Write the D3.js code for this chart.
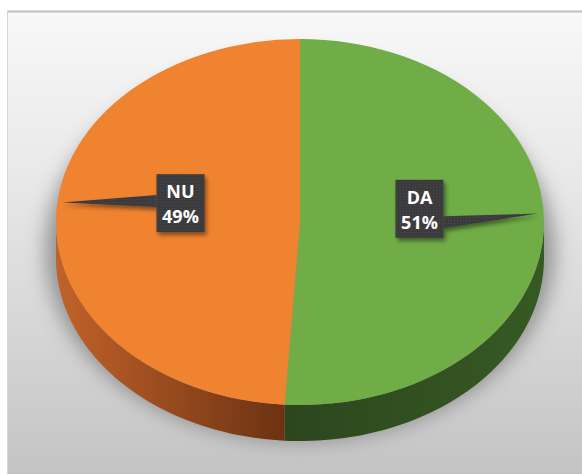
<!DOCTYPE html>
<html>
<head>
<meta charset="utf-8">
<script src="https://cdn.jsdelivr.net/npm/d3@7"></script>
<style>
  html, body { margin: 0; padding: 0; background: #ffffff; }
  svg { display: block; }
</style>
</head>
<body>
<div id="chart"></div>
<script>
// ---- data ----
const categories = ["DA", "NU"];
const values = [51, 49];
const percentLabels = ["51%", "49%"];
const topColors = ["#70AD47", "#F0832F"];
const sideColorsLight = ["#365A24", "#C2622A"];
const sideColorsDark = ["#2C461D", "#6C3212"];

// ---- layout ----
const W = 582, H = 475;
const cx = 300, cy = 222, rx = 244, ry = 183, depth = 36;

const svg = d3.select("#chart").append("svg").attr("width", W).attr("height", H);
const defs = svg.append("defs");

// background gradient
const bg = defs.append("linearGradient").attr("id", "bg").attr("x1", 0).attr("y1", 0).attr("x2", 0).attr("y2", 1);
bg.append("stop").attr("offset", "0%").attr("stop-color", "#f8f8f8");
bg.append("stop").attr("offset", "35%").attr("stop-color", "#e9e9e9");
bg.append("stop").attr("offset", "100%").attr("stop-color", "#c4c4c4");

const blur = defs.append("filter").attr("id", "blur").attr("x", "-20%").attr("y", "-20%").attr("width", "140%").attr("height", "140%");
blur.append("feGaussianBlur").attr("stdDeviation", 10);

const ds = defs.append("filter").attr("id", "ds").attr("x", "-20%").attr("y", "-20%").attr("width", "150%").attr("height", "150%");
ds.append("feDropShadow").attr("dx", 2).attr("dy", 3).attr("stdDeviation", 2).attr("flood-color", "#000").attr("flood-opacity", 0.45);

// texture for labels
const pat = defs.append("pattern").attr("id", "tex").attr("width", 3).attr("height", 3).attr("patternUnits", "userSpaceOnUse");
pat.append("rect").attr("width", 3).attr("height", 3).attr("fill", "#3a3a3d");
pat.append("rect").attr("x", 1).attr("y", 1).attr("width", 1).attr("height", 1).attr("fill", "#4a4a4e");

// chart area
svg.append("rect").attr("x", 7).attr("y", 11).attr("width", W - 7).attr("height", H - 11 - 1).attr("fill", "url(#bg)");
svg.append("line").attr("x1", 7).attr("x2", W).attr("y1", 11.5).attr("y2", 11.5).attr("stroke", "#bdbdbd").attr("stroke-width", 2);
svg.append("line").attr("x1", 7.5).attr("x2", 7.5).attr("y1", 11).attr("y2", H - 1).attr("stroke", "#d6d6d6").attr("stroke-width", 1);

// pie
const pie = d3.pie().sort(null).value(d => d.value);
const data = categories.map((c, i) => ({ name: c, value: values[i], pct: percentLabels[i], i }));
const arcsData = pie(data);

const ex = a => cx + rx * Math.sin(a);
const ey = a => cy - ry * Math.cos(a);

// shadow under pie
svg.append("ellipse").attr("cx", cx).attr("cy", cy + depth * 0.6 + 6).attr("rx", rx + 10).attr("ry", ry + 8)
  .attr("fill", "#707070").attr("opacity", 0.7).attr("filter", "url(#blur)");

// side walls (visible front half: angles between PI/2 and 3PI/2)
const g = svg.append("g");
arcsData.forEach((d, k) => {
  const a0 = Math.max(d.startAngle, Math.PI / 2);
  const a1 = Math.min(d.endAngle, 3 * Math.PI / 2);
  if (a1 <= a0) return;
  const gid = "side" + k;
  const lg = defs.append("linearGradient").attr("id", gid).attr("gradientUnits", "userSpaceOnUse")
    .attr("x1", ex(a1)).attr("y1", 0).attr("x2", ex(a0)).attr("y2", 0);
  if (d.data.i === 1) {
    lg.append("stop").attr("offset", "0%").attr("stop-color", sideColorsLight[1]);
    lg.append("stop").attr("offset", "100%").attr("stop-color", sideColorsDark[1]);
  } else {
    lg.append("stop").attr("offset", "0%").attr("stop-color", sideColorsDark[0]);
    lg.append("stop").attr("offset", "100%").attr("stop-color", sideColorsLight[0]);
  }
  const n = 60;
  const pts = [];
  for (let j = 0; j <= n; j++) { const a = a0 + (a1 - a0) * j / n; pts.push([ex(a), ey(a)]); }
  for (let j = n; j >= 0; j--) { const a = a0 + (a1 - a0) * j / n; pts.push([ex(a), ey(a) + depth]); }
  g.append("path").attr("d", d3.line()(pts) + "Z").attr("fill", `url(#${gid})`);
});

// top face
const arc = d3.arc().innerRadius(0).outerRadius(rx);
svg.append("g").attr("transform", `translate(${cx},${cy}) scale(1,${ry / rx})`)
  .selectAll("path").data(arcsData).join("path")
  .attr("d", arc).attr("fill", d => topColors[d.data.i]);

// labels (callouts)
const lab = svg.append("g").attr("font-family", "'Open Sans', sans-serif").attr("font-weight", "bold");
const bw = 48, bh = 58;
arcsData.forEach(d => {
  const mid = (d.startAngle + d.endAngle) / 2;
  const lx = cx + rx * 0.49 * Math.sin(mid);
  const ly = cy - ry * 0.49 * Math.cos(mid) - 16;
  const tx = cx + rx * 0.975 * Math.sin(mid);
  const ty = cy - ry * 0.975 * Math.cos(mid) - 14;
  const left = tx < lx;
  const edgeX = left ? lx - bw / 2 : lx + bw / 2;
  let by = ly + 2.8 * (ty - ly);
  by = Math.max(ly - bh / 2 + 8, Math.min(ly + bh / 2 - 8, by));
  const grp = lab.append("g").attr("filter", "url(#ds)");
  grp.append("path")
    .attr("d", `M${edgeX},${by - 6} L${tx},${ty} L${edgeX},${by + 6} Z`)
    .attr("fill", "url(#tex)");
  grp.append("rect").attr("x", lx - bw / 2).attr("y", ly - bh / 2).attr("width", bw).attr("height", bh)
    .attr("fill", "url(#tex)");
  lab.append("text").attr("x", lx).attr("y", ly - 5).attr("text-anchor", "middle")
    .attr("font-size", 18).attr("fill", "#ffffff").text(d.data.name);
  lab.append("text").attr("x", lx).attr("y", ly + 20).attr("text-anchor", "middle")
    .attr("font-size", 18).attr("fill", "#ffffff").text(d.data.pct);
});
</script>
</body>
</html>
